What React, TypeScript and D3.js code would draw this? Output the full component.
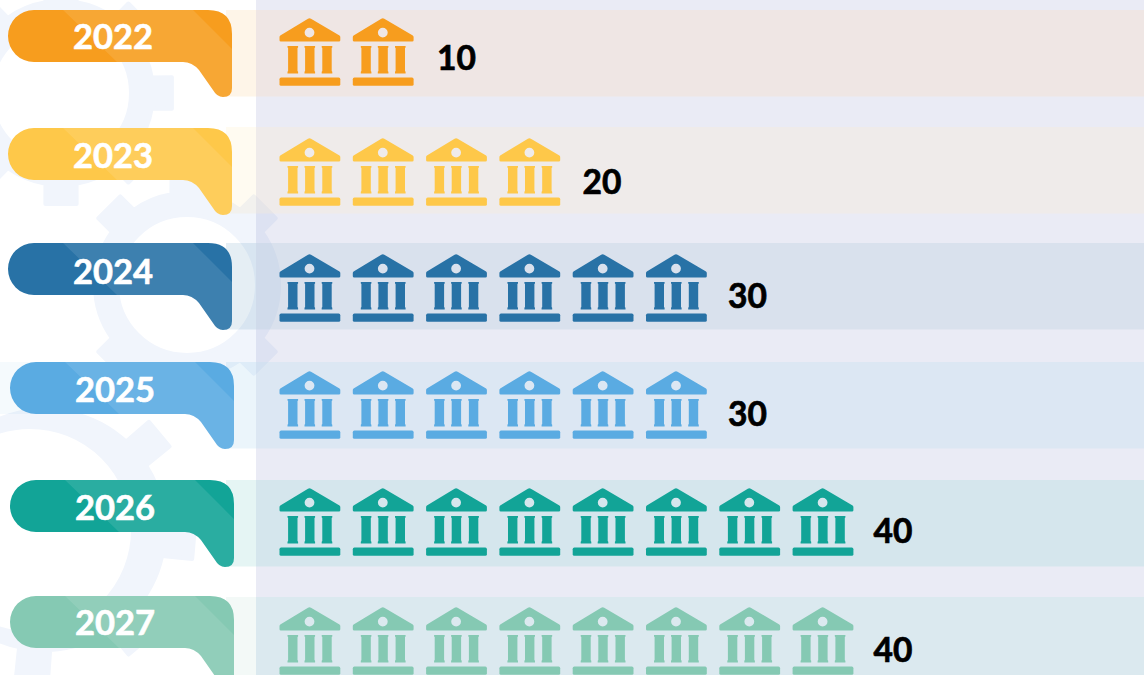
import React from "react";
import * as d3 from "d3";

const years = ["2022", "2023", "2024", "2025", "2026", "2027"];
const values = [10, 20, 30, 30, 40, 40];
const colors = ["#f79d1e", "#fec849", "#2872a6", "#5aabe2", "#12a497", "#85c9b3"];
const unitPerIcon = 5;

// layout and tints (kept apart from the data)
const bandTops = [10, 127, 243, 362, 480, 597];
const calloutTops = [10, 128, 243, 362, 480, 596];
const calloutLefts = [8, 8, 8, 10, 10, 10];
const iconTops = [18, 138, 254, 371, 488, 607];
const yearCentres = [35, 154, 270, 388, 506, 621];
const valueCentres = [56.5, 180.5, 294.5, 412.5, 529.5, 648.5];
const outerAlpha = [0.1, 0.08, 0.12, 0.12, 0.11, 0.1];
const panelTints = ["#fdd9bc", "#fdead0", "#b4c9da", "#beddee", "#a6d9da", "#bae3e1"];

const W = 1144, H = 675;
const xIcon = d3.scaleLinear().domain([0, 40]).range([279.5, 279.5 + 8 * 73.3]);
const xValue = d3.scaleLinear().domain([10, 40]).range([456.5, 893]);

function gearPath(
  cx: number, cy: number, rOuter: number, rTooth: number,
  hx: number, hy: number, rHole: number, toothAngles: number[]
) {
  const path = d3.path();
  const half = 0.17;
  const narrow = 0.14;
  const sorted = toothAngles.map((a) => (a * Math.PI) / 180);
  sorted.forEach((a, i) => {
    const hw = half * (92 / rOuter);
    const tw = narrow * (92 / rOuter);
    const pts: [number, number][] = [
      [rOuter, a - hw],
      [rTooth, a - tw],
      [rTooth, a + tw],
      [rOuter, a + hw],
    ];
    pts.forEach(([r, t], j) => {
      const x = cx + r * Math.cos(t), y = cy + r * Math.sin(t);
      if (i === 0 && j === 0) path.moveTo(x, y);
      else path.lineTo(x, y);
    });
    const nextA = i + 1 < sorted.length ? sorted[i + 1] : sorted[0] + Math.PI * 2;
    path.arc(cx, cy, rOuter, a + hw, nextA - hw);
  });
  path.closePath();
  path.moveTo(hx + rHole, hy);
  path.arc(hx, hy, rHole, 0, Math.PI * 2);
  path.closePath();
  return path.toString();
}

const eight = (rot: number) => d3.range(8).map((i) => rot + i * 45);
const gears = [
  gearPath(61, 93, 92, 112, 61, 93, 70, eight(0)),
  gearPath(187, 285, 92, 111, 187, 285, 70, [-135, -90, -45, 45, 90, 135]),
  gearPath(45, 530, 120, 150, 30, 530, 103, eight(5)),
];

const calloutShape =
  "M26,0 L200,0 Q224,0 224,24 L224,78 Q224,87 215,87 Q209,87 205,80 L191,60 Q184,52 175,52 L26,52 A26,26 0 0 1 26,0 Z";

const roof =
  "M30,0.3 Q30.8,0.3 31.5,0.8 L60,17.5 Q60.8,18 60.8,19 L60.8,22.2 Q60.8,23.6 59.4,23.6 L1.4,23.6 Q0,23.6 0,22.2 L0,19 Q0,18 0.8,17.5 L28.5,0.8 Q29.2,0.3 30,0.3 Z " +
  "M34.9,14.6 A4.9,4.9 0 1 0 25.1,14.6 A4.9,4.9 0 1 0 34.9,14.6 Z";
const column = (x: number) =>
  `M${x},28 L${x + 10.6},28 L${x + 10.6},29.4 L${x + 10},30 L${x + 10},53 L${x + 10.6},53.7 L${x + 10.6},55.4 L${x},55.4 L${x},53.7 L${x + 0.6},53 L${x + 0.6},30 L${x},29.4 Z`;

function Icon({ x, y, color }: { x: number; y: number; color: string }) {
  return (
    <g transform={`translate(${x},${y})`} fill={color}>
      <path d={roof} fillRule="evenodd" />
      <path d={column(8)} />
      <path d={column(25)} />
      <path d={column(42.2)} />
      <rect x={0} y={59.6} width={60.8} height={8.2} rx={1.6} />
    </g>
  );
}

export default function App() {
  return (
    <svg
      width={W}
      height={H}
      viewBox={`0 0 ${W} ${H}`}
      style={{ position: "absolute", left: 0, top: 0, display: "block" }}
    >
      <defs>
        <clipPath id="callout">
          <path d={calloutShape} />
        </clipPath>
      </defs>
      <rect width={W} height={H} fill="#ffffff" />
      {gears.map((d, i) => (
        <path
          key={i}
          d={d}
          fill="#f1f5fc"
          fillRule="evenodd"
          stroke="#f1f5fc"
          strokeWidth={4}
          strokeLinejoin="round"
        />
      ))}
      <rect x={0} y={bandTops[3]} width={40} height={52} fill={colors[3]} fillOpacity={0.06} />
      <rect x={256} y={0} width={W - 256} height={H} fill="rgb(72,76,170)" fillOpacity={0.115} />
      {years.map((yr, i) => (
        <g key={yr}>
          <rect x={226} y={bandTops[i]} width={30} height={86.5} fill={colors[i]} fillOpacity={outerAlpha[i]} />
          <rect x={256} y={bandTops[i]} width={W - 256} height={86.5} fill={panelTints[i]} fillOpacity={0.3} />
        </g>
      ))}
      {years.map((yr, i) => (
        <g key={yr} transform={`translate(${calloutLefts[i]},${calloutTops[i]})`}>
          <path d={calloutShape} fill={colors[i]} />
          <g clipPath="url(#callout)">
            <path d="M55,0 L185,0 L240,55 L240,100 L109,100 L109,52 Z" fill="#ffffff" fillOpacity={0.1} />
          </g>
        </g>
      ))}
      {years.map((yr, i) =>
        d3.range(values[i] / unitPerIcon).map((k) => (
          <Icon key={yr + k} x={xIcon(k * unitPerIcon)} y={iconTops[i]} color={colors[i]} />
        ))
      )}
      {years.map((yr, i) => (
        <text
          key={yr}
          x={calloutLefts[i] + 105}
          y={yearCentres[i]}
          textAnchor="middle"
          dominantBaseline="central"
          fontFamily="Lato"
          fontWeight={700}
          fontSize={34.5}
          fill="#ffffff"
          stroke="#ffffff"
          strokeWidth={0.6}
        >
          {yr}
        </text>
      ))}
      {years.map((yr, i) => (
        <text
          key={yr}
          x={xValue(values[i])}
          y={valueCentres[i]}
          textAnchor="middle"
          dominantBaseline="central"
          fontFamily="Lato"
          fontWeight={700}
          fontSize={33.5}
          fill="#000000"
          stroke="#000000"
          strokeWidth={0.7}
        >
          {values[i]}
        </text>
      ))}
    </svg>
  );
}
